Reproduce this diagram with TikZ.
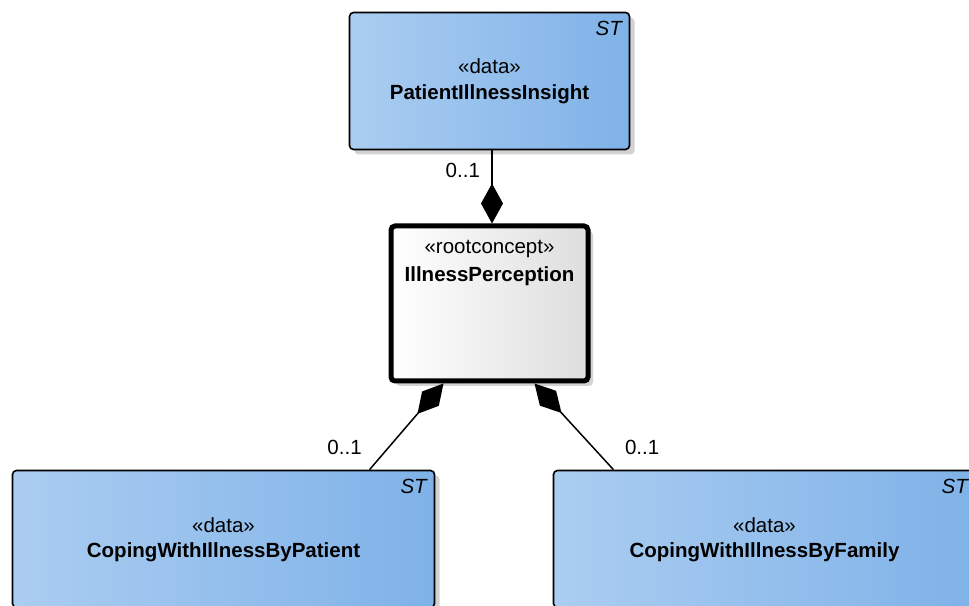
\documentclass[tikz,border=0pt]{standalone}
\usepackage{fontspec}
\setmainfont{Liberation Sans}
\usetikzlibrary{positioning,arrows.meta,shadows}
\definecolor{dataleft}{RGB}{171,205,241}
\definecolor{dataright}{RGB}{127,178,232}
\definecolor{rootright}{RGB}{222,222,222}
\definecolor{shadowgrey}{RGB}{210,210,210}
\tikzset{
  box/.style={draw=black, rounded corners=4pt, inner sep=0pt,
              drop shadow={shadow xshift=5pt, shadow yshift=-5pt, fill=shadowgrey, opacity=1}},
  databox/.style={box, line width=1.6pt, left color=dataleft, right color=dataright,
              minimum width=280pt, minimum height=137pt},
  rootbox/.style={box, line width=5pt, left color=white, right color=rootright,
              minimum width=197pt, minimum height=155pt},
  comp/.style={{Diamond[length=40pt, width=22pt]}-, line width=1.5pt},
  mult/.style={font=\fontsize{20.5}{24}\selectfont},
  stereo/.style={font=\fontsize{20.5}{24}\selectfont, anchor=base},
  cname/.style={font=\fontsize{20.5}{24}\selectfont\bfseries, anchor=base},
  st/.style={font=\fontsize{20.5}{24}\selectfont\itshape, anchor=base east},
}
\begin{document}
\begin{tikzpicture}[x=1pt, y=1pt]
  \clip (0,0) rectangle (969,605);

  \node[databox] (pii) at (489.5,524) {};
  \node[rootbox] (ill) at (489.5,301.5) {};
  \node[databox, minimum width=422pt] (cwp) at (223.5,66) {};
  \node[databox, minimum width=422pt] (cwf) at (764.5,66) {};

  \node[stereo] at ([yshift=-62]pii.north) {«data»};
  \node[cname] at ([yshift=-88]pii.north) {PatientIllnessInsight};
  \node[st] at ([xshift=-5, yshift=-24]pii.north east) {ST};

  \node[stereo] at ([yshift=-30]ill.north) {«rootconcept»};
  \node[cname] at ([yshift=-58]ill.north) {IllnessPerception};

  \node[stereo] at ([yshift=-63]cwp.north) {«data»};
  \node[cname] at ([yshift=-88]cwp.north) {CopingWithIllnessByPatient};
  \node[st] at ([xshift=-5, yshift=-24]cwp.north east) {ST};

  \node[stereo] at ([yshift=-63]cwf.north) {«data»};
  \node[cname] at ([yshift=-88]cwf.north) {CopingWithIllnessByFamily};
  \node[st] at ([xshift=-5, yshift=-24]cwf.north east) {ST};

  \draw[comp] ([xshift=2.5]ill.north) -- ([xshift=2.5]pii.south)
    node[mult, pos=0.73, left=8pt] {0..1};
  \draw[comp] ([xshift=-46]ill.south) -- ([xshift=146]cwp.north)
    node[mult, pos=0.74, left=23pt] {0..1};
  \draw[comp] ([xshift=45]ill.south) -- ([xshift=-151]cwf.north)
    node[mult, pos=0.74, right=28pt] {0..1};
\end{tikzpicture}
\end{document}
